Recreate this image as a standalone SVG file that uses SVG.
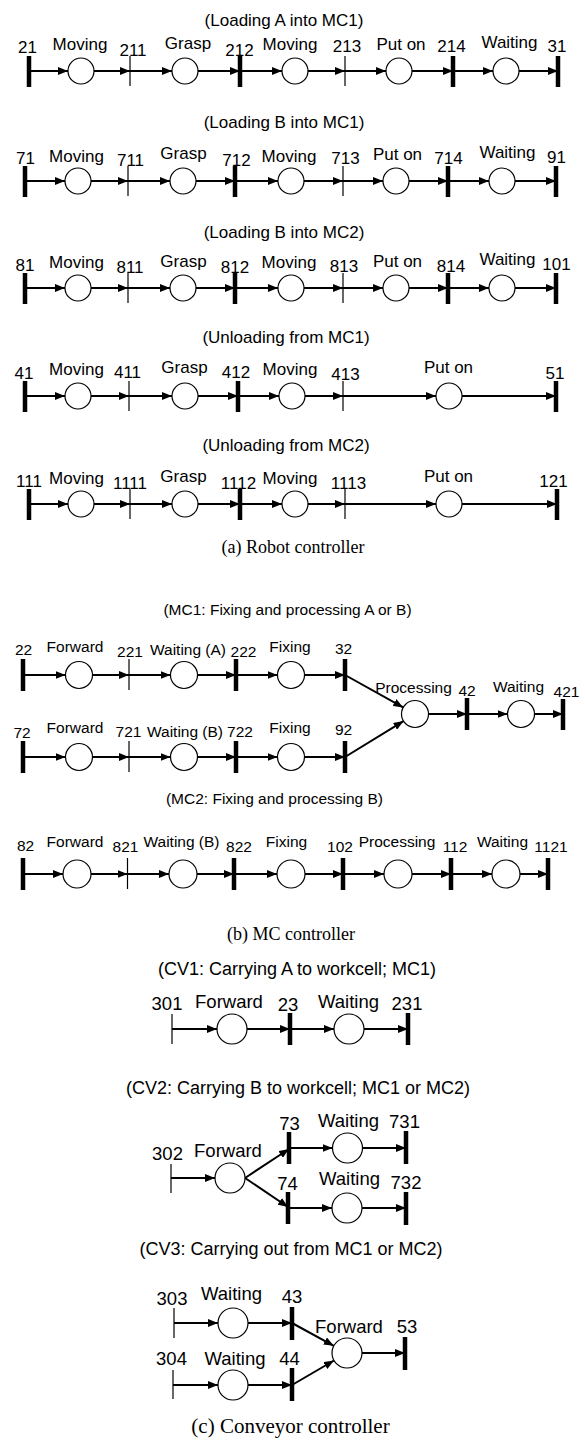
<svg xmlns="http://www.w3.org/2000/svg" width="585" height="1445" viewBox="0 0 585 1445">
<style>
text{font-family:"Liberation Sans",Arial,sans-serif;fill:#000;text-anchor:middle}
.a{font-size:17px}
.b{font-size:15.5px}
.c{font-size:18.5px}
.cap{font-family:"Liberation Serif","Times New Roman",serif;font-size:18px}
.pl{fill:#fff;stroke:#000;stroke-width:1.2}
.tk{stroke:#000;stroke-width:4.5}
.tn{stroke:#000;stroke-width:1.2}
.arc line,line.arc{stroke:#000;stroke-width:2;marker-end:url(#ah)}
</style>
<defs>
<marker id="ah" viewBox="0 0 10 8" refX="10" refY="4" markerWidth="10" markerHeight="8" markerUnits="userSpaceOnUse" orient="auto"><path d="M0,0 L10,4 L0,8 z" fill="#000"/></marker>
</defs>
<rect width="585" height="1445" fill="#fff"/>

<!-- ===== (a) Robot controller ===== -->
<g id="titles-a" class="a">
<text x="284" y="26">(Loading A into MC1)</text>
<text x="284" y="128">(Loading B into MC1)</text>
<text x="284" y="238">(Loading B into MC2)</text>
<text x="286" y="343">(Unloading from MC1)</text>
<text x="286" y="451">(Unloading from MC2)</text>
</g>

<g id="connectors" class="arc">
<!-- row1 y71 -->
<line x1="29" y1="71" x2="68" y2="71"/><line x1="94" y1="71" x2="130" y2="71"/><line x1="130" y1="71" x2="172" y2="71"/><line x1="198" y1="71" x2="240" y2="71"/><line x1="240" y1="71" x2="282" y2="71"/><line x1="308" y1="71" x2="345" y2="71"/><line x1="345" y1="71" x2="386" y2="71"/><line x1="412" y1="71" x2="453" y2="71"/><line x1="453" y1="71" x2="493" y2="71"/><line x1="519" y1="71" x2="558" y2="71"/>
<!-- row2 y181 -->
<line x1="25" y1="181" x2="65" y2="181"/><line x1="91" y1="181" x2="128" y2="181"/><line x1="128" y1="181" x2="170" y2="181"/><line x1="196" y1="181" x2="235" y2="181"/><line x1="235" y1="181" x2="278" y2="181"/><line x1="304" y1="181" x2="343" y2="181"/><line x1="343" y1="181" x2="383" y2="181"/><line x1="409" y1="181" x2="448" y2="181"/><line x1="448" y1="181" x2="489" y2="181"/><line x1="515" y1="181" x2="556" y2="181"/>
<!-- row3 y288 -->
<line x1="25" y1="288" x2="65" y2="288"/><line x1="91" y1="288" x2="128" y2="288"/><line x1="128" y1="288" x2="170" y2="288"/><line x1="196" y1="288" x2="235" y2="288"/><line x1="235" y1="288" x2="278" y2="288"/><line x1="304" y1="288" x2="343" y2="288"/><line x1="343" y1="288" x2="383" y2="288"/><line x1="409" y1="288" x2="448" y2="288"/><line x1="448" y1="288" x2="489" y2="288"/><line x1="515" y1="288" x2="556" y2="288"/>
<!-- row4 y396 -->
<line x1="25" y1="396" x2="65" y2="396"/><line x1="91" y1="396" x2="129" y2="396"/><line x1="129" y1="396" x2="172" y2="396"/><line x1="198" y1="396" x2="238" y2="396"/><line x1="238" y1="396" x2="279" y2="396"/><line x1="305" y1="396" x2="343" y2="396"/><line x1="343" y1="396" x2="436" y2="396"/><line x1="462" y1="396" x2="556" y2="396"/>
<!-- row5 y504 -->
<line x1="29" y1="504" x2="68" y2="504"/><line x1="94" y1="504" x2="130" y2="504"/><line x1="130" y1="504" x2="172" y2="504"/><line x1="198" y1="504" x2="240" y2="504"/><line x1="240" y1="504" x2="282" y2="504"/><line x1="308" y1="504" x2="345" y2="504"/><line x1="345" y1="504" x2="436" y2="504"/><line x1="462" y1="504" x2="557" y2="504"/>
<!-- MC1 row A y675 -->
<line x1="23" y1="675" x2="65.5" y2="675"/><line x1="92.5" y1="675" x2="129" y2="675"/><line x1="129" y1="675" x2="170.5" y2="675"/><line x1="197.5" y1="675" x2="236" y2="675"/><line x1="236" y1="675" x2="277.5" y2="675"/><line x1="304.5" y1="675" x2="345" y2="675"/><line x1="345" y1="675" x2="403.2" y2="707.4"/>
<!-- MC1 row B y757 -->
<line x1="23" y1="757" x2="65.5" y2="757"/><line x1="92.5" y1="757" x2="129" y2="757"/><line x1="129" y1="757" x2="170.5" y2="757"/><line x1="197.5" y1="757" x2="236" y2="757"/><line x1="236" y1="757" x2="277.5" y2="757"/><line x1="304.5" y1="757" x2="345" y2="757"/><line x1="345" y1="757" x2="403.5" y2="721.1"/>
<line x1="428.5" y1="714" x2="467" y2="714"/><line x1="467" y1="714" x2="507.5" y2="714"/><line x1="534.5" y1="714" x2="563" y2="714"/>
<!-- MC2 y874 -->
<line x1="23" y1="874" x2="63" y2="874"/><line x1="91" y1="874" x2="127.5" y2="874"/><line x1="127.5" y1="874" x2="169" y2="874"/><line x1="197" y1="874" x2="234" y2="874"/><line x1="234" y1="874" x2="277" y2="874"/><line x1="305" y1="874" x2="343" y2="874"/><line x1="343" y1="874" x2="384" y2="874"/><line x1="412" y1="874" x2="451" y2="874"/><line x1="451" y1="874" x2="492" y2="874"/><line x1="520" y1="874" x2="548" y2="874"/>
<!-- CV1 y1029 -->
<line x1="172" y1="1029" x2="217" y2="1029"/><line x1="247" y1="1029" x2="290" y2="1029"/><line x1="290" y1="1029" x2="334" y2="1029"/><line x1="364" y1="1029" x2="408" y2="1029"/>
<!-- CV2 -->
<line x1="171" y1="1178" x2="215" y2="1178"/><line x1="245" y1="1178" x2="289" y2="1149"/><line x1="245" y1="1178" x2="288" y2="1207"/>
<line x1="289" y1="1148" x2="332.5" y2="1148"/><line x1="362.5" y1="1148" x2="406" y2="1148"/>
<line x1="288" y1="1208" x2="332" y2="1208"/><line x1="362" y1="1208" x2="406" y2="1208"/>
<!-- CV3 -->
<line x1="174" y1="1323" x2="218" y2="1323"/><line x1="248" y1="1323" x2="292" y2="1323"/>
<line x1="173" y1="1385" x2="218" y2="1385"/><line x1="248" y1="1385" x2="292" y2="1385"/>
<line x1="292" y1="1323" x2="333.8" y2="1345.8"/><line x1="292" y1="1385" x2="334" y2="1360.5"/>
<line x1="362" y1="1353" x2="405" y2="1353"/>
</g>

<!-- Row 1 nodes -->
<g id="t21" class="a"><line class="tk" x1="29" y1="56" x2="29" y2="87"/><text x="27.5" y="53">21</text></g>
<g id="p_r1_moving1" class="a"><circle class="pl" cx="81" cy="71" r="13"/><text x="80" y="50">Moving</text></g>
<g id="t211" class="a"><line class="tn" x1="130" y1="56" x2="130" y2="86"/><text x="133" y="56">211</text></g>
<g id="p_r1_grasp" class="a"><circle class="pl" cx="185" cy="71" r="13"/><text x="188" y="49">Grasp</text></g>
<g id="t212" class="a"><line class="tk" x1="240" y1="56" x2="240" y2="87"/><text x="239.5" y="56">212</text></g>
<g id="p_r1_moving2" class="a"><circle class="pl" cx="295" cy="71" r="13"/><text x="290" y="50">Moving</text></g>
<g id="t213" class="a"><line class="tn" x1="345" y1="56" x2="345" y2="86"/><text x="347" y="52">213</text></g>
<g id="p_r1_puton" class="a"><circle class="pl" cx="399" cy="71" r="13"/><text x="401" y="50">Put on</text></g>
<g id="t214" class="a"><line class="tk" x1="453" y1="56" x2="453" y2="87"/><text x="451.5" y="52">214</text></g>
<g id="p_r1_waiting" class="a"><circle class="pl" cx="506" cy="71" r="13"/><text x="509.5" y="48">Waiting</text></g>
<g id="t31" class="a"><line class="tk" x1="558" y1="56" x2="558" y2="87"/><text x="557" y="52">31</text></g>

<!-- Row 2 nodes -->
<g id="t71" class="a"><line class="tk" x1="25" y1="166" x2="25" y2="197"/><text x="25.5" y="164">71</text></g>
<g id="p_r2_moving1" class="a"><circle class="pl" cx="78" cy="181" r="13"/><text x="76.5" y="162">Moving</text></g>
<g id="t711" class="a"><line class="tn" x1="128" y1="166" x2="128" y2="196"/><text x="130.5" y="166">711</text></g>
<g id="p_r2_grasp" class="a"><circle class="pl" cx="183" cy="181" r="13"/><text x="183.5" y="159">Grasp</text></g>
<g id="t712" class="a"><line class="tk" x1="235" y1="166" x2="235" y2="197"/><text x="236.5" y="166">712</text></g>
<g id="p_r2_moving2" class="a"><circle class="pl" cx="291" cy="181" r="13"/><text x="289" y="162">Moving</text></g>
<g id="t713" class="a"><line class="tn" x1="343" y1="166" x2="343" y2="196"/><text x="345.5" y="164">713</text></g>
<g id="p_r2_puton" class="a"><circle class="pl" cx="396" cy="181" r="13"/><text x="397.5" y="160">Put on</text></g>
<g id="t714" class="a"><line class="tk" x1="448" y1="166" x2="448" y2="197"/><text x="448.5" y="164">714</text></g>
<g id="p_r2_waiting" class="a"><circle class="pl" cx="502" cy="181" r="13"/><text x="507.5" y="158">Waiting</text></g>
<g id="t91" class="a"><line class="tk" x1="556" y1="166" x2="556" y2="197"/><text x="556.5" y="163">91</text></g>

<!-- Row 3 nodes -->
<g id="t81" class="a"><line class="tk" x1="25" y1="273" x2="25" y2="304"/><text x="25" y="271">81</text></g>
<g id="p_r3_moving1" class="a"><circle class="pl" cx="78" cy="288" r="13"/><text x="76.5" y="268">Moving</text></g>
<g id="t811" class="a"><line class="tn" x1="128" y1="273" x2="128" y2="303"/><text x="130" y="273">811</text></g>
<g id="p_r3_grasp" class="a"><circle class="pl" cx="183" cy="288" r="13"/><text x="183.5" y="267">Grasp</text></g>
<g id="t812" class="a"><line class="tk" x1="235" y1="273" x2="235" y2="304"/><text x="235" y="273">812</text></g>
<g id="p_r3_moving2" class="a"><circle class="pl" cx="291" cy="288" r="13"/><text x="289" y="268">Moving</text></g>
<g id="t813" class="a"><line class="tn" x1="343" y1="273" x2="343" y2="303"/><text x="344" y="272">813</text></g>
<g id="p_r3_puton" class="a"><circle class="pl" cx="396" cy="288" r="13"/><text x="397.5" y="267">Put on</text></g>
<g id="t814" class="a"><line class="tk" x1="448" y1="273" x2="448" y2="304"/><text x="451" y="272">814</text></g>
<g id="p_r3_waiting" class="a"><circle class="pl" cx="502" cy="288" r="13"/><text x="507.5" y="265">Waiting</text></g>
<g id="t101" class="a"><line class="tk" x1="556" y1="273" x2="556" y2="304"/><text x="556.5" y="270">101</text></g>

<!-- Row 4 nodes -->
<g id="t41" class="a"><line class="tk" x1="25" y1="381" x2="25" y2="412"/><text x="24" y="379">41</text></g>
<g id="p_r4_moving1" class="a"><circle class="pl" cx="78" cy="396" r="13"/><text x="76.5" y="375">Moving</text></g>
<g id="t411" class="a"><line class="tn" x1="129" y1="381" x2="129" y2="411"/><text x="127.5" y="378">411</text></g>
<g id="p_r4_grasp" class="a"><circle class="pl" cx="185" cy="396" r="13"/><text x="184.5" y="373">Grasp</text></g>
<g id="t412" class="a"><line class="tk" x1="238" y1="381" x2="238" y2="412"/><text x="236" y="378">412</text></g>
<g id="p_r4_moving2" class="a"><circle class="pl" cx="292" cy="396" r="13"/><text x="290" y="375">Moving</text></g>
<g id="t413" class="a"><line class="tn" x1="343" y1="381" x2="343" y2="411"/><text x="345.5" y="380">413</text></g>
<g id="p_r4_puton" class="a"><circle class="pl" cx="449" cy="396" r="13"/><text x="448.5" y="373">Put on</text></g>
<g id="t51" class="a"><line class="tk" x1="556" y1="381" x2="556" y2="412"/><text x="555" y="379">51</text></g>

<!-- Row 5 nodes -->
<g id="t111" class="a"><line class="tk" x1="29" y1="489" x2="29" y2="520"/><text x="29" y="487">111</text></g>
<g id="p_r5_moving1" class="a"><circle class="pl" cx="81" cy="504" r="13"/><text x="76.5" y="484">Moving</text></g>
<g id="t1111" class="a"><line class="tn" x1="130" y1="489" x2="130" y2="519"/><text x="130" y="489">1111</text></g>
<g id="p_r5_grasp" class="a"><circle class="pl" cx="185" cy="504" r="13"/><text x="183.5" y="482">Grasp</text></g>
<g id="t1112" class="a"><line class="tk" x1="240" y1="489" x2="240" y2="520"/><text x="238.5" y="489">1112</text></g>
<g id="p_r5_moving2" class="a"><circle class="pl" cx="295" cy="504" r="13"/><text x="290" y="484">Moving</text></g>
<g id="t1113" class="a"><line class="tn" x1="345" y1="489" x2="345" y2="519"/><text x="348.5" y="489">1113</text></g>
<g id="p_r5_puton" class="a"><circle class="pl" cx="449" cy="504" r="13"/><text x="448.5" y="482">Put on</text></g>
<g id="t121" class="a"><line class="tk" x1="557" y1="489" x2="557" y2="520"/><text x="553.5" y="487">121</text></g>

<text class="cap" x="293" y="553">(a) Robot controller</text>

<!-- ===== (b) MC controller ===== -->
<text class="b" x="287.5" y="615">(MC1: Fixing and processing A or B)</text>
<g id="t22" class="b"><line class="tk" x1="23" y1="659" x2="23" y2="691"/><text x="23.5" y="655">22</text></g>
<g id="p_mc1_forwardA" class="b"><circle class="pl" cx="79" cy="675" r="13.5"/><text x="75" y="652">Forward</text></g>
<g id="t221" class="b"><line class="tn" x1="129" y1="659" x2="129" y2="690"/><text x="130" y="657">221</text></g>
<g id="p_mc1_waitA" class="b"><circle class="pl" cx="184" cy="675" r="13.5"/><text x="188" y="655">Waiting (A)</text></g>
<g id="t222" class="b"><line class="tk" x1="236" y1="659" x2="236" y2="691"/><text x="243.5" y="657">222</text></g>
<g id="p_mc1_fixA" class="b"><circle class="pl" cx="291" cy="675" r="13.5"/><text x="290" y="652">Fixing</text></g>
<g id="t32" class="b"><line class="tk" x1="345" y1="659" x2="345" y2="691"/><text x="343.5" y="654">32</text></g>

<g id="t72" class="b"><line class="tk" x1="23" y1="741" x2="23" y2="773"/><text x="22" y="738">72</text></g>
<g id="p_mc1_forwardB" class="b"><circle class="pl" cx="79" cy="757" r="13.5"/><text x="75" y="733">Forward</text></g>
<g id="t721" class="b"><line class="tn" x1="129" y1="741" x2="129" y2="772"/><text x="128.5" y="737">721</text></g>
<g id="p_mc1_waitB" class="b"><circle class="pl" cx="184" cy="757" r="13.5"/><text x="185" y="737">Waiting (B)</text></g>
<g id="t722" class="b"><line class="tk" x1="236" y1="741" x2="236" y2="773"/><text x="240" y="737">722</text></g>
<g id="p_mc1_fixB" class="b"><circle class="pl" cx="291" cy="757" r="13.5"/><text x="290" y="733">Fixing</text></g>
<g id="t92" class="b"><line class="tk" x1="345" y1="741" x2="345" y2="773"/><text x="343.5" y="735">92</text></g>

<g id="p_mc1_proc" class="b"><circle class="pl" cx="415" cy="714" r="13.5"/><text x="413.5" y="693">Processing</text></g>
<g id="t42" class="b"><line class="tk" x1="467" y1="698" x2="467" y2="730"/><text x="467" y="696">42</text></g>
<g id="p_mc1_wait" class="b"><circle class="pl" cx="521" cy="714" r="13.5"/><text x="518.5" y="692">Waiting</text></g>
<g id="t421" class="b"><line class="tk" x1="563" y1="699" x2="563" y2="730"/><text x="566.5" y="697">421</text></g>

<text class="b" x="274.5" y="804">(MC2: Fixing and processing B)</text>
<g id="t82" class="b"><line class="tk" x1="23" y1="858" x2="23" y2="890"/><text x="25.5" y="851">82</text></g>
<g id="p_mc2_forward" class="b"><circle class="pl" cx="77" cy="874" r="14"/><text x="75" y="847">Forward</text></g>
<g id="t821" class="b"><line class="tn" x1="127.5" y1="858" x2="127.5" y2="889"/><text x="125.5" y="852">821</text></g>
<g id="p_mc2_wait" class="b"><circle class="pl" cx="183" cy="874" r="14"/><text x="181.5" y="847">Waiting (B)</text></g>
<g id="t822" class="b"><line class="tk" x1="234" y1="858" x2="234" y2="890"/><text x="239" y="852">822</text></g>
<g id="p_mc2_fix" class="b"><circle class="pl" cx="291" cy="874" r="14"/><text x="286.5" y="847">Fixing</text></g>
<g id="t102" class="b"><line class="tk" x1="343" y1="858" x2="343" y2="890"/><text x="340" y="852">102</text></g>
<g id="p_mc2_proc" class="b"><circle class="pl" cx="398" cy="874" r="14"/><text x="397" y="847">Processing</text></g>
<g id="t112" class="b"><line class="tk" x1="451" y1="858" x2="451" y2="890"/><text x="455" y="852">112</text></g>
<g id="p_mc2_waiting" class="b"><circle class="pl" cx="506" cy="874" r="14"/><text x="502.5" y="847">Waiting</text></g>
<g id="t1121" class="b"><line class="tk" x1="548" y1="858" x2="548" y2="890"/><text x="551" y="852">1121</text></g>

<text class="cap" x="291" y="940">(b) MC controller</text>

<!-- ===== (c) Conveyor controller ===== -->
<text class="c" style="font-size:18px" x="297" y="975">(CV1: Carrying A to workcell; MC1)</text>
<g id="t301" class="c"><line class="tn" x1="172" y1="1014" x2="172" y2="1044"/><text x="167" y="1010">301</text></g>
<g id="p_cv1_forward" class="c"><circle class="pl" cx="232" cy="1029" r="15"/><text x="229" y="1008">Forward</text></g>
<g id="t23" class="c"><line class="tk" x1="290" y1="1013" x2="290" y2="1045"/><text x="288" y="1011">23</text></g>
<g id="p_cv1_wait" class="c"><circle class="pl" cx="349" cy="1029" r="15"/><text x="348.5" y="1008">Waiting</text></g>
<g id="t231" class="c"><line class="tk" x1="408" y1="1013" x2="408" y2="1045"/><text x="407" y="1010">231</text></g>

<text class="c" style="font-size:18px" x="298" y="1094">(CV2: Carrying B to workcell; MC1 or MC2)</text>
<g id="t302" class="c"><line class="tn" x1="171" y1="1164" x2="171" y2="1193"/><text x="167.5" y="1160">302</text></g>
<g id="p_cv2_forward" class="c"><circle class="pl" cx="230" cy="1178" r="15"/><text x="228" y="1157">Forward</text></g>
<g id="t73" class="c"><line class="tk" x1="289" y1="1132" x2="289" y2="1164"/><text x="289.5" y="1130">73</text></g>
<g id="p_cv2_wait1" class="c"><circle class="pl" cx="347.5" cy="1148" r="15"/><text x="348.5" y="1127">Waiting</text></g>
<g id="t731" class="c"><line class="tk" x1="406" y1="1131" x2="406" y2="1164"/><text x="404.5" y="1128">731</text></g>
<g id="t74" class="c"><line class="tk" x1="288" y1="1192" x2="288" y2="1224"/><text x="287.5" y="1190">74</text></g>
<g id="p_cv2_wait2" class="c"><circle class="pl" cx="347" cy="1208" r="15"/><text x="349.5" y="1185">Waiting</text></g>
<g id="t732" class="c"><line class="tk" x1="406" y1="1192" x2="406" y2="1225"/><text x="406" y="1189">732</text></g>

<text class="c" style="font-size:18px" x="291" y="1255">(CV3: Carrying out from MC1 or MC2)</text>
<g id="t303" class="c"><line class="tn" x1="174" y1="1308" x2="174" y2="1338"/><text x="172" y="1305">303</text></g>
<g id="p_cv3_wait1" class="c"><circle class="pl" cx="233" cy="1323" r="15"/><text x="231.5" y="1300">Waiting</text></g>
<g id="t43" class="c"><line class="tk" x1="292" y1="1307" x2="292" y2="1340"/><text x="292" y="1303">43</text></g>
<g id="t304" class="c"><line class="tn" x1="173" y1="1370" x2="173" y2="1399"/><text x="171.5" y="1365">304</text></g>
<g id="p_cv3_wait2" class="c"><circle class="pl" cx="233" cy="1385" r="15"/><text x="235" y="1365">Waiting</text></g>
<g id="t44" class="c"><line class="tk" x1="292" y1="1368" x2="292" y2="1401"/><text x="289.5" y="1365">44</text></g>
<g id="p_cv3_forward" class="c"><circle class="pl" cx="347" cy="1353" r="15"/><text x="349" y="1333">Forward</text></g>
<g id="t53" class="c"><line class="tk" x1="405" y1="1337" x2="405" y2="1370"/><text x="407" y="1333">53</text></g>

<text class="cap" style="font-size:21px" x="290.5" y="1433">(c) Conveyor controller</text>
</svg>
